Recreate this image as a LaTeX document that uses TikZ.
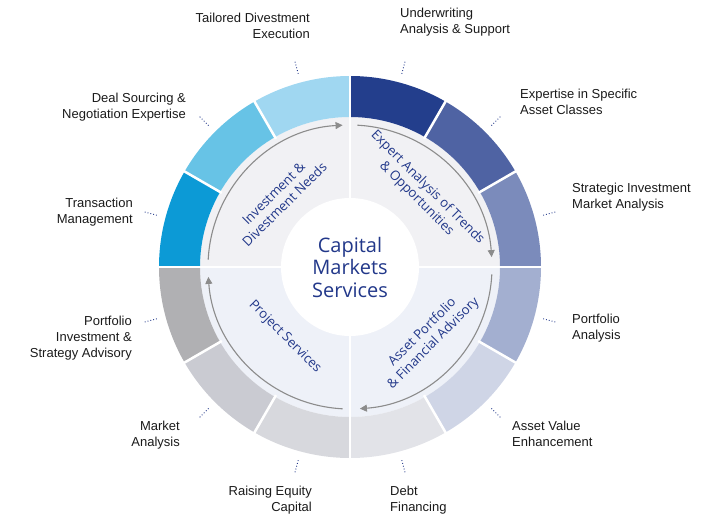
\documentclass[tikz,border=0pt]{standalone}
\usepackage{fontspec}
\setmainfont{Open Sans}
\newfontfamily\lblfont{Liberation Sans}
\usetikzlibrary{arrows.meta}
\definecolor{navy}{HTML}{22388A}
\definecolor{txt}{HTML}{1A1A1A}
\definecolor{arr}{HTML}{8C8C8C}
\definecolor{c1}{HTML}{233E8C}
\definecolor{c2}{HTML}{4F63A3}
\definecolor{c3}{HTML}{7B8BBB}
\definecolor{c4}{HTML}{A3AFD0}
\definecolor{c5}{HTML}{CFD5E6}
\definecolor{c6}{HTML}{E2E3E8}
\definecolor{c7}{HTML}{D7D8DD}
\definecolor{c8}{HTML}{CACBD2}
\definecolor{c9}{HTML}{B0B0B3}
\definecolor{c10}{HTML}{0C9AD6}
\definecolor{c11}{HTML}{67C3E6}
\definecolor{c12}{HTML}{A0D7F1}
\definecolor{upq}{HTML}{F1F1F4}
\definecolor{loq}{HTML}{EEF1F8}
\tikzset{
 lbl/.style={font=\lblfont\fontsize{13}{16}\selectfont, text=txt, inner sep=0pt},
 lblL/.style={lbl, align=left, anchor=north west},
 lblR/.style={lbl, align=right, anchor=north east},
 quad/.style={font=\fontsize{13.2}{15.5}\selectfont, text=navy, align=center, inner sep=0pt},
 tick/.style={navy, dotted, line width=0.9pt},
 flow/.style={arr, line width=1.1pt, -{Triangle[length=7pt,width=7pt]}}
}
\begin{document}
\begin{tikzpicture}[x=1pt,y=1pt]
\useasboundingbox (0,0) rectangle (722,523);
\coordinate (C) at (350,256);
\begin{scope}[shift={(C)}]
 \fill[upq] (150,0) arc (0:180:150) -- cycle;
 \fill[loq] (-150,0) arc (180:360:150) -- cycle;
 \foreach \i in {1,...,12}{
   \pgfmathsetmacro\aa{90-30*(\i-1)}
   \pgfmathsetmacro\ab{90-30*\i}
   \fill[c\i] (\aa:191) arc (\aa:\ab:191) -- (\ab:150) arc (\ab:\aa:150) -- cycle;
   \draw[white, line width=2.5pt] (\aa:148) -- (\aa:193);
   \pgfmathsetmacro\am{\aa-15}
   \draw[tick] (\am:200) -- (\am:214);
 }
 \draw[white, line width=2.5pt] (-193,0) -- (193,0) (0,-193) -- (0,193);
 \fill[white] (0,0) circle (69);
 \draw[flow] (177:142) arc (177:93:142);
 \draw[flow] (87:142) arc (87:4:142);
 \draw[flow] (-3:142) arc (-3:-86:142);
 \draw[flow] (-93:142) arc (-93:-176:142);
 \node[font=\fontsize{20}{22.5}\selectfont, text=navy, align=center] (ctr) at (0,0) {Capital\\Markets\\Services};
 \node[quad, rotate=45] (q1) at (-71,68) {Investment \&\\Divestment Needs};
 \node[quad, rotate=-45] (q2) at (72,74) {Expert Analysis of Trends\\\& Opportunities};
 \node[quad, rotate=45] (q3) at (78,-71) {Asset Portfolio\\\& Financial Advisory};
 \node[quad, rotate=-45] (q4) at (-65,-70) {Project Services};
\end{scope}
\node[lblR] (l1) at (310,510) {Tailored Divestment\\Execution};
\node[lblL] (l2) at (400,515) {Underwriting\\Analysis \& Support};
\node[lblL] (l3) at (520,434) {Expertise in Specific\\Asset Classes};
\node[lblL] (l4) at (572,340) {Strategic Investment\\Market Analysis};
\node[lblL] (l5) at (572,209) {Portfolio\\Analysis};
\node[lblL] (l6) at (512,102) {Asset Value\\Enhancement};
\node[lblL] (l7) at (390,37) {Debt\\Financing};
\node[lblR] (l8) at (312,37) {Raising Equity\\Capital};
\node[lblR] (l9) at (180,102) {Market\\Analysis};
\node[lblR] (l10) at (132,207) {Portfolio\\Investment \&\\Strategy Advisory};
\node[lblR] (l11) at (133,325) {Transaction\\Management};
\node[lblR] (l12) at (186,430) {Deal Sourcing \&\\Negotiation Expertise};
\end{tikzpicture}
\end{document}
